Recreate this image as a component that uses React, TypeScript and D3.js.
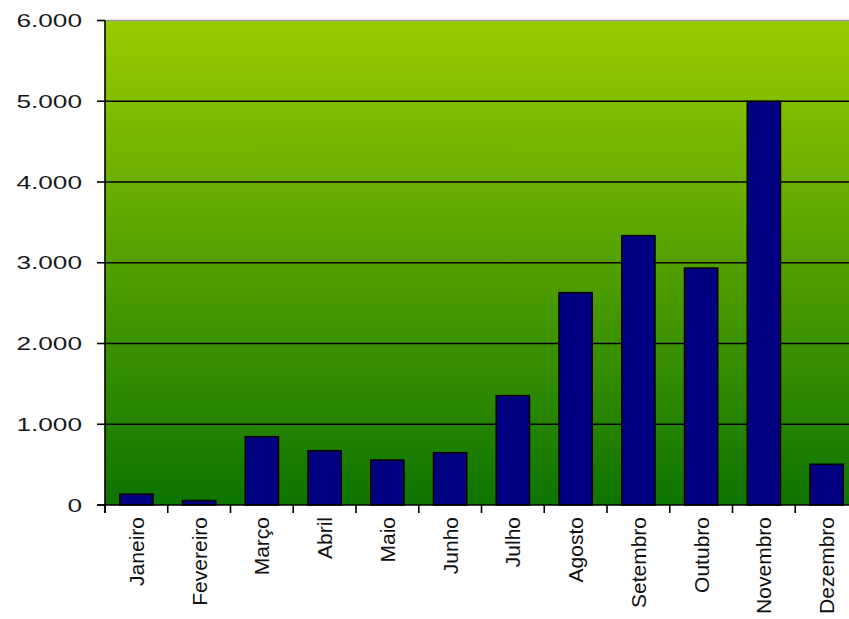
import React from "react";
import * as d3 from "d3";

const months = [
  "Janeiro", "Fevereiro", "Março", "Abril", "Maio", "Junho",
  "Julho", "Agosto", "Setembro", "Outubro", "Novembro", "Dezembro",
];
const values = [135, 55, 846, 673, 557, 648, 1355, 2630, 3336, 2935, 4998, 505];
const yTicks = [0, 1000, 2000, 3000, 4000, 5000, 6000];

const W = 849;
const H = 619;
const left = 105;
const right = 858;
const top = 20.5;
const bottom = 505;

export default function App() {
  const x = d3.scaleBand<string>().domain(months).range([left, right]).paddingInner(0.47).paddingOuter(0.235);
  const xb = d3.scaleBand<string>().domain(months).range([left, right]);
  const y = d3.scaleLinear().domain([0, 6000]).range([bottom, top]);
  const fmt = (v: number) => d3.format(",")(v).replace(/,/g, ".");

  return (
    <svg width={W} height={H} style={{ position: "absolute", left: 0, top: 0, background: "#fff" }}
      fontFamily="'Liberation Sans', Arial, sans-serif">
      <defs>
        <linearGradient id="bg" x1="0" y1="0" x2="0" y2="1">
          <stop offset="0" stopColor="#99cc00" />
          <stop offset="1" stopColor="#0d7400" />
        </linearGradient>
      </defs>
      <rect x={left} y={top} width={right - left} height={bottom - top} fill="url(#bg)" />
      <line x1={left} x2={right} y1={top} y2={top} stroke="#999" strokeWidth={1.5} />
      {yTicks.filter((t) => t > 0 && t < 6000).map((t) => (
        <line key={t} x1={left} x2={right} y1={y(t)} y2={y(t)} stroke="#000" strokeWidth={1.6} />
      ))}
      {months.map((m, i) => (
        <rect key={m} x={x(m)} y={y(values[i])} width={x.bandwidth()} height={bottom - y(values[i])}
          fill="#000080" stroke="#000" strokeWidth={1.5} />
      ))}
      <line x1={left} x2={left} y1={top} y2={bottom + 8} stroke="#000" strokeWidth={1.6} />
      <line x1={left - 8} x2={right} y1={bottom} y2={bottom} stroke="#000" strokeWidth={1.6} />
      {yTicks.map((t) => (
        <g key={t}>
          <line x1={left - 8} x2={left} y1={y(t)} y2={y(t)} stroke="#000" strokeWidth={1.6} />
          <text transform={`translate(82,${y(t)}) scale(1.38,1)`} textAnchor="end" dominantBaseline="central"
            fontSize={19} fill="#1a1a1a">{fmt(t)}</text>
        </g>
      ))}
      {months.map((m) => (
        <g key={m}>
          <line x1={xb(m)} x2={xb(m)} y1={bottom} y2={bottom + 8} stroke="#000" strokeWidth={1.6} />
          <text transform={`translate(${(xb(m) as number) + xb.bandwidth() / 2},517) rotate(-90)`}
            textAnchor="end" dominantBaseline="central" fontSize={21} fill="#111">{m}</text>
        </g>
      ))}
    </svg>
  );
}
